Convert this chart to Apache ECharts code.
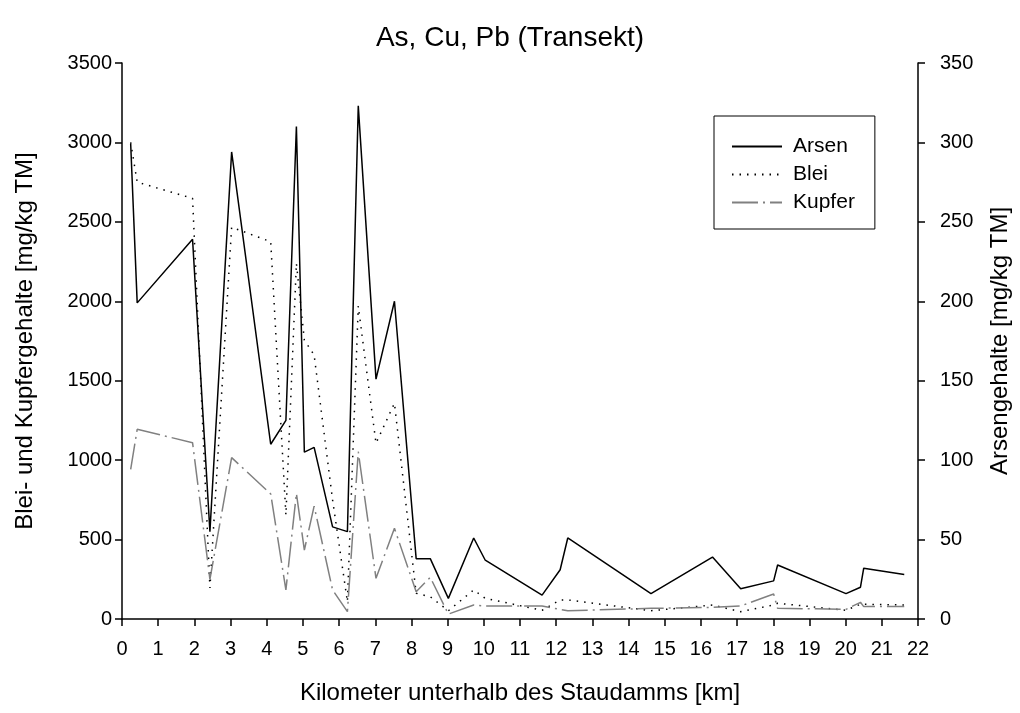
<!DOCTYPE html>
<html>
<head>
<meta charset="utf-8">
<script src="https://cdn.jsdelivr.net/npm/echarts@6/dist/echarts.min.js"></script>
<style>
html,body{margin:0;padding:0;background:#fff;}
#chart{width:1020px;height:713px;}
</style>
</head>
<body>
<div id="chart"></div>
<script>
// Kilometer positions of samples
var km = [0.24, 0.42, 1.95, 2.43, 3.03, 4.11, 4.53, 4.82, 5.04, 5.31, 5.82, 6.23, 6.53, 7.02, 7.53, 8.13, 8.52, 9.02, 9.72, 10.04, 11.61, 12.11, 12.32, 14.62, 16.32, 17.10, 18.01, 18.12, 20.01, 20.41, 20.50, 21.62];
// Arsen [mg/kg TM] (right axis)
var arsen = [299, 199, 239, 55, 294, 110, 125, 310, 105, 108, 58, 55, 323, 151, 200, 38, 38, 13, 51, 37, 15, 31, 51, 16, 39, 19, 24, 34, 16, 20, 32, 28];
// Blei [mg/kg TM] (left axis)
var blei = [3000, 2750, 2648, 195, 2466, 2375, 655, 2239, 1756, 1662, 750, 109, 1970, 1106, 1358, 162, 140, 52, 183, 130, 55, 120, 120, 52, 88, 46, 88, 99, 55, 93, 93, 88];
// Kupfer [mg/kg TM] (left axis)
var kupfer = [942, 1194, 1110, 250, 1016, 787, 183, 791, 434, 711, 183, 46, 1053, 256, 571, 172, 262, 31, 88, 82, 82, 60, 52, 67, 73, 82, 157, 67, 61, 105, 78, 78];

var xTicks = [0,1,2,3,4,5,6,7,8,9,10,11,12,13,14,15,16,17,18,19,20,21,22];
var leftTicks = [0,500,1000,1500,2000,2500,3000,3500];
var rightTicks = [0,50,100,150,200,250,300,350];

function pairs(ys){ return km.map(function(x,i){ return [x, ys[i]]; }); }
function plain(v){ return String(v); }

var FONT = '"Liberation Sans", Arial, sans-serif';
var chart = echarts.init(document.getElementById('chart'));
function axisBase(labelMargin){
  return {
    axisLine:{show:true, lineStyle:{color:'#000', width:1.5}},
    axisTick:{show:true, inside:false, length:7, lineStyle:{color:'#000', width:1.5}},
    axisLabel:{color:'#000', fontSize:20, fontFamily:FONT, margin:labelMargin, formatter:plain},
    splitLine:{show:false},
    nameTextStyle:{color:'#000', fontSize:24, fontFamily:FONT}
  };
}
chart.setOption({
  animation:false,
  backgroundColor:'#fff',
  title:{text:'As, Cu, Pb (Transekt)', left:'center', top:19,
    textStyle:{color:'#000', fontSize:28, fontWeight:'normal', fontFamily:FONT}},
  grid:{left:122, right:102, top:63, bottom:94, containLabel:false},
  legend:{
    orient:'vertical', left:714, top:116,
    padding:[20,20,16,17], itemGap:7, itemWidth:50, itemHeight:14,
    borderColor:'#000', borderWidth:1, backgroundColor:'#fff',
    itemStyle:{opacity:0, borderWidth:0},
    textStyle:{color:'#000', fontSize:21, fontFamily:FONT, padding:[0,0,0,6]},
    data:['Arsen','Blei','Kupfer']
  },
  xAxis:Object.assign(axisBase(20), {
    type:'value', min:xTicks[0], max:xTicks[xTicks.length-1], interval:1,
    name:'Kilometer unterhalb des Staudamms [km]', nameLocation:'middle', nameGap:62
  }),
  yAxis:[
    Object.assign(axisBase(10), {
      type:'value', min:leftTicks[0], max:leftTicks[leftTicks.length-1], interval:500,
      name:'Blei- und Kupfergehalte [mg/kg TM]', nameLocation:'middle', nameGap:85, position:'left'
    }),
    Object.assign(axisBase(22), {
      type:'value', min:rightTicks[0], max:rightTicks[rightTicks.length-1], interval:50,
      name:'Arsengehalte [mg/kg TM]', nameLocation:'middle', nameGap:70, position:'right',
      nameRotate:90
    })
  ],
  series:[
    {name:'Arsen', type:'line', yAxisIndex:1, data:pairs(arsen), symbol:'none',
      lineStyle:{color:'#000', width:1.5, type:'solid'}, itemStyle:{color:'rgba(0,0,0,0)'}},
    {name:'Blei', type:'line', yAxisIndex:0, data:pairs(blei), symbol:'none',
      lineStyle:{color:'#000', width:1.5, type:[1.5,6]}, itemStyle:{color:'rgba(0,0,0,0)'}},
    {name:'Kupfer', type:'line', yAxisIndex:0, data:pairs(kupfer), symbol:'none',
      lineStyle:{color:'#808080', width:1.5, type:[26,5,2,5]}, itemStyle:{color:'rgba(0,0,0,0)'}}
  ]
});
</script>
</body>
</html>
